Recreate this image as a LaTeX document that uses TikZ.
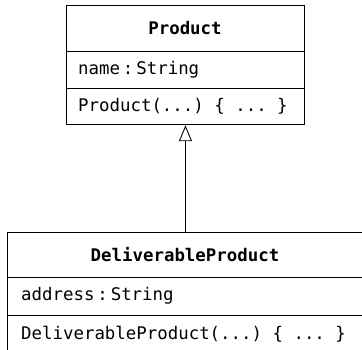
\documentclass[tikz,border=0pt]{standalone}
\usepackage{fontspec}
\setmonofont{DejaVu Sans Mono}
\usetikzlibrary{arrows.meta}

\tikzset{
    classbox/.style={draw=black, line width=.9pt, inner sep=0pt, anchor=north west},
    classname/.style={font=\ttfamily\bfseries\fontsize{17.4}{20}\selectfont, inner sep=0pt},
    member/.style={font=\ttfamily\fontsize{17.4}{20}\selectfont, inner sep=0pt, anchor=west},
}

\begin{document}
\begin{tikzpicture}[x=1pt, y=-1pt]
        \useasboundingbox (0,0) rectangle (362,350);
        \clip (0,0) rectangle (362,350);

        % superclass
        \node[classbox, minimum width=238pt, minimum height=119.3pt] (product) at (66,5) {};
        \draw[line width=.9pt] (66,51.7) -- (304,51.7);
        \draw[line width=.9pt] (66,88) -- (304,88);
        \node[classname] (productname) at (185,28.3) {Product};
        \node[member] (productattr) at (78,70) {name\,:\,String};
        \node[member] (productop) at (78,106) {Product(...) \{ ... \}};

        % subclass (runs past the right and lower edges)
        \node[classbox, minimum width=360pt, minimum height=122pt] (deliv) at (7,232.3) {};
        \draw[line width=.9pt] (7,277) -- (367,277);
        \draw[line width=.9pt] (7,315) -- (367,315);
        \node[classname] (delivname) at (185,254.6) {DeliverableProduct};
        \node[member] (delivattr) at (21,296) {address\,:\,String};
        \node[member] (delivop) at (21,334) {DeliverableProduct(...) \{ ... \}};

        % generalisation
        \draw[line width=.9pt, -{Triangle[open, length=16pt, width=13pt]}] (product.south |- deliv.north) -- (product.south);

    \end{tikzpicture}
\end{document}
